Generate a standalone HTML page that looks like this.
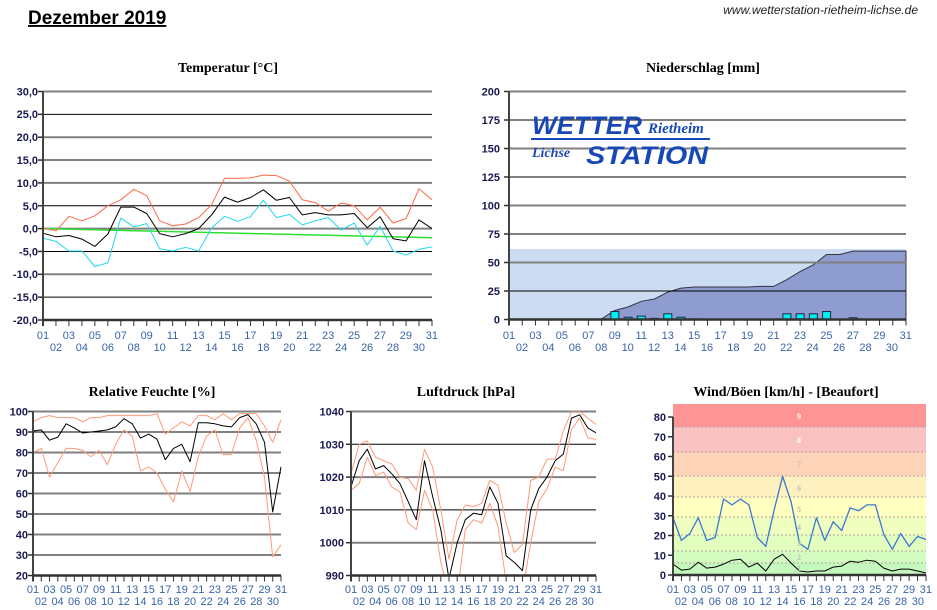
<!DOCTYPE html>
<html><head><meta charset="utf-8"><style>
body{margin:0;background:#fff;width:937px;height:610px;overflow:hidden;position:relative;font-family:"Liberation Sans",sans-serif}
svg{position:absolute;left:0;top:0}
.xl{position:absolute;display:flex;justify-content:space-between;font-size:11px;color:#3a64a8;line-height:12px}
.xl span{width:14px;text-align:center}
.t{position:absolute;font-family:"Liberation Serif",serif;font-weight:bold;font-size:14px;color:#000;white-space:nowrap;transform:translateX(-50%)}
</style></head><body>
<svg id="s" width="937" height="610" xmlns="http://www.w3.org/2000/svg" font-family="Liberation Sans, sans-serif">
<g id="g"></g>
<g font-size="11" font-weight="bold" fill="#1a1a50" text-anchor="end">
<text x="38" y="95.5">30,0</text><text x="38" y="118">25,0</text><text x="38" y="141">20,0</text><text x="38" y="164">15,0</text><text x="38" y="187">10,0</text><text x="38" y="210">5,0</text><text x="38" y="232.5">0,0</text><text x="38" y="255.5">-5,0</text><text x="38" y="278">-10,0</text><text x="38" y="301">-15,0</text><text x="38" y="324">-20,0</text>
<text x="500" y="95.5">200</text><text x="500" y="124">175</text><text x="500" y="152.5">150</text><text x="500" y="181">125</text><text x="500" y="209.5">100</text><text x="500" y="238">75</text><text x="500" y="266.5">50</text><text x="500" y="295">25</text><text x="500" y="323.5">0</text>
<text x="28" y="415.5">100</text><text x="28" y="436">90</text><text x="28" y="456.5">80</text><text x="28" y="477">70</text><text x="28" y="497.5">60</text><text x="28" y="518">50</text><text x="28" y="538.5">40</text><text x="28" y="559">30</text><text x="28" y="579.5">20</text>
<text x="344" y="415.5">1040</text><text x="344" y="448.3">1030</text><text x="344" y="481.1">1020</text><text x="344" y="513.9">1010</text><text x="344" y="546.7">1000</text><text x="344" y="579.5">990</text>
<text x="666" y="421">80</text><text x="666" y="440.8">70</text><text x="666" y="460.5">60</text><text x="666" y="480.3">50</text><text x="666" y="500">40</text><text x="666" y="519.8">30</text><text x="666" y="539.5">20</text><text x="666" y="559.3">10</text><text x="666" y="579">0</text>
</g>
<g font-family="Liberation Serif, serif" font-size="8" font-weight="bold" text-anchor="middle">
<text x="799" y="419" fill="#fff">9</text><text x="799" y="443" fill="#fff">8</text><text x="799" y="467" fill="#bbb">7</text><text x="799" y="491" fill="#bbb">6</text><text x="799" y="512" fill="#bbb">5</text><text x="799" y="530" fill="#bbb">4</text><text x="799" y="546" fill="#bbb">3</text><text x="799" y="560" fill="#bbb">2</text><text x="799" y="571" fill="#bbb">1</text>
</g>
<g font-family="Liberation Sans, sans-serif" font-style="italic" font-weight="bold" fill="#1848b8">
<text x="532" y="134" font-size="25" textLength="110" lengthAdjust="spacingAndGlyphs">WETTER</text>
<text x="648" y="133" font-size="15" font-family="Liberation Serif, serif">Rietheim</text>
<text x="532" y="157" font-size="14" font-family="Liberation Serif, serif">Lichse</text>
<text x="586" y="164" font-size="25" textLength="122" lengthAdjust="spacingAndGlyphs">STATION</text>
</g>
<rect x="531" y="138" width="179" height="2" fill="#1848b8"/>
<text x="28" y="24" font-size="19" font-weight="bold" text-decoration="underline">Dezember 2019</text>
<text x="918" y="14" font-size="12" font-style="italic" text-anchor="end" fill="#222">www.wetterstation-rietheim-lichse.de</text>
</svg>
<div class="t" style="left:228px;top:61px">Temperatur [°C]</div>
<div class="t" style="left:703px;top:61px">Niederschlag [mm]</div>
<div class="t" style="left:152px;top:385px">Relative Feuchte [%]</div>
<div class="t" style="left:466px;top:385px">Luftdruck [hPa]</div>
<div class="t" style="left:786px;top:385px">Wind/Böen [km/h] - [Beaufort]</div>

<div class="xl" style="left:36px;width:403px;top:330px"><span>01</span><span>03</span><span>05</span><span>07</span><span>09</span><span>11</span><span>13</span><span>15</span><span>17</span><span>19</span><span>21</span><span>23</span><span>25</span><span>27</span><span>29</span><span>31</span></div>
<div class="xl" style="left:49px;width:377px;top:342px"><span>02</span><span>04</span><span>06</span><span>08</span><span>10</span><span>12</span><span>14</span><span>16</span><span>18</span><span>20</span><span>22</span><span>24</span><span>26</span><span>28</span><span>30</span></div>
<div class="xl" style="left:502px;width:411px;top:330px"><span>01</span><span>03</span><span>05</span><span>07</span><span>09</span><span>11</span><span>13</span><span>15</span><span>17</span><span>19</span><span>21</span><span>23</span><span>25</span><span>27</span><span>29</span><span>31</span></div>
<div class="xl" style="left:515px;width:384px;top:342px"><span>02</span><span>04</span><span>06</span><span>08</span><span>10</span><span>12</span><span>14</span><span>16</span><span>18</span><span>20</span><span>22</span><span>24</span><span>26</span><span>28</span><span>30</span></div>
<div class="xl" style="left:26px;width:262px;top:584px"><span>01</span><span>03</span><span>05</span><span>07</span><span>09</span><span>11</span><span>13</span><span>15</span><span>17</span><span>19</span><span>21</span><span>23</span><span>25</span><span>27</span><span>29</span><span>31</span></div>
<div class="xl" style="left:34px;width:246px;top:596px"><span>02</span><span>04</span><span>06</span><span>08</span><span>10</span><span>12</span><span>14</span><span>16</span><span>18</span><span>20</span><span>22</span><span>24</span><span>26</span><span>28</span><span>30</span></div>
<div class="xl" style="left:344px;width:259px;top:584px"><span>01</span><span>03</span><span>05</span><span>07</span><span>09</span><span>11</span><span>13</span><span>15</span><span>17</span><span>19</span><span>21</span><span>23</span><span>25</span><span>27</span><span>29</span><span>31</span></div>
<div class="xl" style="left:352px;width:243px;top:596px"><span>02</span><span>04</span><span>06</span><span>08</span><span>10</span><span>12</span><span>14</span><span>16</span><span>18</span><span>20</span><span>22</span><span>24</span><span>26</span><span>28</span><span>30</span></div>
<div class="xl" style="left:666px;width:267px;top:584px"><span>01</span><span>03</span><span>05</span><span>07</span><span>09</span><span>11</span><span>13</span><span>15</span><span>17</span><span>19</span><span>21</span><span>23</span><span>25</span><span>27</span><span>29</span><span>31</span></div>
<div class="xl" style="left:674px;width:251px;top:596px"><span>02</span><span>04</span><span>06</span><span>08</span><span>10</span><span>12</span><span>14</span><span>16</span><span>18</span><span>20</span><span>22</span><span>24</span><span>26</span><span>28</span><span>30</span></div>
<script>
var g=document.getElementById('g'),h='';
function L(x1,y1,x2,y2,c,w,extra){h+='<line x1="'+x1+'" y1="'+y1+'" x2="'+x2+'" y2="'+y2+'" stroke="'+c+'" stroke-width="'+w+'" '+(extra||'')+'/>';}
function R(x,y,w,hh,c,extra){h+='<rect x="'+x+'" y="'+y+'" width="'+w+'" height="'+hh+'" fill="'+c+'" '+(extra||'')+'/>';}
function P(pts,c,w,fill){h+='<polyline points="'+pts.map(p=>p[0].toFixed(1)+','+p[1].toFixed(1)).join(' ')+'" fill="'+(fill||'none')+'" stroke="'+c+'" stroke-width="'+w+'" stroke-linejoin="round"/>';}
function chart(o){
  var xs=d=>o.x0+(d-1)*(o.x1-o.x0)/30, ys=v=>o.yb-(v-o.vmin)*(o.yb-o.yt)/(o.vmax-o.vmin);
  o.bg&&o.bg(xs,ys);
  for(var i=0;i<=o.n;i++){var y=o.yt+i*(o.yb-o.yt)/o.n; if(i==o.n)break; var gray=(i%2==0); if(o.grid!==false) L(o.x0,y,o.x1,y,gray?'#808080':'#000',gray?2:1);}
  o.mid&&o.mid(xs,ys);
  o.clip&&(h+='<clipPath id="c'+o.x0+'"><rect x="'+o.x0+'" y="'+o.yt+'" width="'+(o.x1-o.x0)+'" height="'+(o.yb-o.yt)+'"/></clipPath><g clip-path="url(#c'+o.x0+')">');
  o.series.forEach(s=>P(s.d.map((v,i)=>[xs(i+1),ys(v)]),s.c,s.w||1));
  o.clip&&(h+='</g>');
  L(o.x0,o.yt,o.x0,o.yb+6,'#444',2);
  L(o.x0,o.yb,o.x1,o.yb,'#333',2.5);
  for(var d=1;d<=31;d++)L(xs(d),o.yb,xs(d),o.yb+6,'#333',1);
  for(var i=0;i<=o.n;i++){var y=o.yt+i*(o.yb-o.yt)/o.n;L(o.x0-5,y,o.x0,y,'#333',1.5);}
}
var tmax=[0.2,-0.5,2.7,1.7,2.8,5,6.3,8.6,7.2,1.7,0.6,1,2.4,5.2,11,11,11.1,11.7,11.6,10.4,6.3,5.7,3.8,5.6,5,1.9,4.7,1.2,2.2,8.7,6.3];
var tavg=[-1,-1.8,-1.5,-2.3,-3.9,-1.2,4.7,4.7,3.3,-1.1,-1.8,-1.1,0,3,6.9,5.8,6.8,8.5,6.2,6.8,3,3.5,3,3,3.3,0.2,2.6,-2.2,-2.7,1.9,0];
var tmin=[-2.1,-2.8,-4.9,-4.9,-8.3,-7.5,2.3,0.4,1.1,-4.4,-4.9,-4.1,-4.9,0.1,2.7,1.6,2.6,6.2,2.4,3.1,0.8,1.7,2.4,-0.3,1.2,-3.6,0.5,-4.9,-5.8,-4.5,-4];
var tg=[];for(var i=0;i<31;i++)tg.push(-2*i/30);
chart({x0:43,x1:432,yt:91.5,yb:320,vmin:-20,vmax:30,n:10,series:[{d:tg,c:'#30e030',w:1.5},{d:tmax,c:'#ff6a48'},{d:tavg,c:'#000'},{d:tmin,c:'#20d8f0'}]});
var cum=[0,0,0,0,0,0,0.3,0.5,8,11,16,18,24,27.5,28.5,28.5,28.5,28.5,28.5,29,29,35,42,48,57,57,60,60,60,60,60];
var bars={9:7,10:2,11:3,12:1,13:5,14:2,15:0.5,20:0.3,22:5,23:5,24:5,25:7,27:1.5,6:0.3,7:0.3,8:0.5};
chart({x0:509,x1:906,yt:91.5,yb:319.5,vmin:0,vmax:200,n:8,series:[],
 bg:function(xs,ys){R(509,249,397,70.5,'#ccdcf2');var pts=cum.map((v,i)=>[xs(i+1),ys(v)]);h+='<polygon points="509,319.5 '+pts.map(p=>p[0].toFixed(1)+','+p[1].toFixed(1)).join(' ')+' 906,319.5" fill="#8f9ccf" stroke="#334" stroke-width="1"/>';},
 mid:function(xs,ys){for(var d in bars){var v=bars[d];var y=ys(v);R(xs(+d)-4,y,8,319.5-y,'#00f0f0','stroke="#224" stroke-width="1"');}}});
var hmax=[95,97,98,97,97,97,95,97,97,98,98,98,98,98,98,99,89,92,95,93,98,98,96,99,96,99,99,99,93,85,96];
var havg=[90.5,91,86,87.5,94,92,89.5,90,90.5,91,92.5,96.5,94,87,89,86.5,76.5,82,84,75.5,94.5,94.5,94,93,92.5,97,98.5,94,85,51,73];
var hmin=[80,82,68,75,82,82,81,78,81,74,84,91,88,71,73,70,62,56,71,61,78,88,91,79,79,92,97,86,68,29,35];
chart({x0:33,x1:281,yt:411.5,yb:575.5,vmin:20,vmax:100,n:8,series:[{d:hmax,c:'#ff9a78'},{d:hmin,c:'#ff9a78'},{d:havg,c:'#000'}]});
var pavg=[1017,1025,1028.5,1022.5,1023.5,1021,1018,1012.5,1007,1025,1014,1004,989,1000,1007,1009,1008.5,1017,1012,996,994,991.5,1010,1016.5,1020,1025,1027,1038,1039,1035,1033.5];
var pmax=[1021,1030,1031,1026,1025,1024,1020,1019.5,1016,1028.5,1023,1010,995,1007,1011.5,1011,1012,1019,1017.5,1006,997,999.5,1019,1020,1025.5,1025.5,1034,1040,1040,1038,1036];
var pmin=[1016,1018,1026,1020.5,1021.5,1017,1015.5,1006,1004,1016,1010,994,984,984,1004,1007,1006,1012,1005,988,985,985,1000,1012.5,1016.5,1023,1022,1034.5,1038,1032,1031.5];
chart({x0:351,x1:596,yt:411.5,yb:575.5,vmin:990,vmax:1040,n:5,clip:true,series:[{d:pmax,c:'#ff9a78'},{d:pmin,c:'#ff9a78'},{d:pavg,c:'#000'}]});
var wg=[29,17.5,21,29,17.5,19,38.5,35.5,38.5,35.5,19,14.5,33,50,37,16,13,29,17.5,27,22.5,34,32.5,35.5,35.5,20.5,13,21,14.5,19.5,18];
var wa=[5.5,2.5,3,6.5,3.5,4,5.5,7.5,8,4,6,2,8,10.5,6,2,1.5,2,2,4,4.5,7,6.5,7.5,7,3.5,2,3,3,2,1];
chart({x0:673,x1:926,yt:417,yb:575,vmin:0,vmax:80,n:8,grid:false,series:[{d:wg,c:'#3878d0',w:1.3},{d:wa,c:'#000'}],
 bg:function(xs,ys){var b=[[404,427,'#ff9494'],[427,452,'#f9c2c0'],[452,476,'#fed4b8'],[476,497,'#fff0c0'],[497,517,'#ffffc0'],[517,535,'#f0ffc0'],[535,551,'#e2ffc0'],[551,563,'#d4fcc0'],[563,575,'#c4f8bc']];
  b.forEach(r=>{R(673,r[0],253,r[1]-r[0],r[2]);if(r[0]>404)L(673,r[0],926,r[0],'#b0a0a0',1,'stroke-dasharray="2,2"');});}});
g.innerHTML=h;
</script>
</body></html>
